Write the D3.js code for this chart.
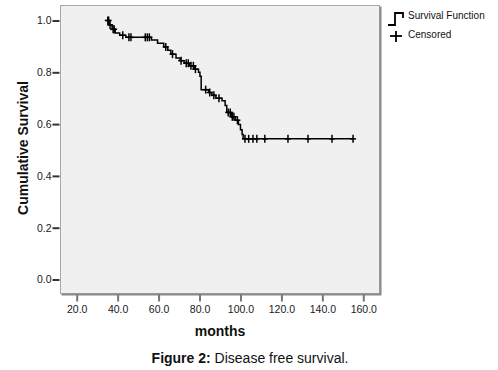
<!DOCTYPE html>
<html><head><meta charset="utf-8">
<script src="https://cdn.jsdelivr.net/npm/d3@7"></script>
<style>
html,body{margin:0;padding:0;background:#fff;}
svg{display:block;font-family:"Liberation Sans",Arial,sans-serif;}
</style></head>
<body><svg id="c" width="498" height="370"></svg>
<script>
// Kaplan-Meier step data (months, cumulative survival after the event)
const startTime = 35.0;
const eventTimes = [35.9, 37.3, 38.8, 41.0, 44.0, 56.5, 59.5, 62.5, 64.5, 66.0, 68.5, 70.5, 72.5, 75.0, 77.5, 79.5, 80.2, 80.8, 84.5, 86.0, 88.0, 91.0, 92.5, 93.3, 95.5, 97.5, 99.0, 100.0, 100.8, 101.3];
const survivalAfter = [0.983, 0.966, 0.952, 0.943, 0.935, 0.925, 0.912, 0.898, 0.885, 0.870, 0.855, 0.845, 0.835, 0.825, 0.812, 0.800, 0.785, 0.733, 0.722, 0.711, 0.700, 0.690, 0.672, 0.645, 0.628, 0.615, 0.598, 0.578, 0.560, 0.543];
const censoredTimes = [35.2, 35.6, 36.3, 37.8, 38.3, 42.5, 45.5, 46.5, 53.5, 54.5, 55.5, 63.5, 66.8, 71.0, 73.5, 74.5, 75.8, 77.0, 78.0, 83.0, 85.0, 87.0, 89.5, 94.0, 95.0, 96.0, 96.8, 98.5, 102.2, 104.0, 106.1, 108.0, 111.9, 123.2, 133.0, 144.7, 155.0];
const xTicks = [20, 40, 60, 80, 100, 120, 140, 160];
const yTicks = [0, 0.2, 0.4, 0.6, 0.8, 1.0];

const svg = d3.select("#c");
const x = d3.scaleLinear().domain([20, 160]).range([76.7, 363.3]);
const y = d3.scaleLinear().domain([0, 1]).range([279.5, 20.5]);

// plot frame
const L = 60.5, T = 5.5, R = 379.5, B = 293.5;
svg.append("rect").attr("x", L).attr("y", T).attr("width", R - L).attr("height", B - T)
  .attr("fill", "#f0f0f0").attr("stroke", "#a8a8a8").attr("stroke-width", 1);
svg.append("path").attr("d", `M${R+1},${T+1}V${B+1}H${L+1}`).attr("fill","none")
  .attr("stroke", "#8a8a8a").attr("stroke-width", 2);

// axes
const ya = svg.append("g").attr("transform", `translate(${L-1},0)`)
  .call(d3.axisLeft(y).tickValues(yTicks).tickFormat(d3.format(".1f")).tickSize(7).tickPadding(1));
ya.select(".domain").remove();
ya.selectAll("line").attr("stroke", "#333").attr("stroke-width", 2);
ya.selectAll("text").attr("font-size", "10.5px").attr("fill", "#1a1a1a").attr("font-family", "Liberation Sans, Arial, sans-serif");

const xa = svg.append("g").attr("transform", `translate(0,${B+1})`)
  .call(d3.axisBottom(x).tickValues(xTicks).tickFormat(d3.format(".1f")).tickSize(7).tickPadding(4));
xa.select(".domain").remove();
xa.selectAll("line").attr("stroke", "#777").attr("stroke-width", 2);
xa.selectAll("text").attr("font-size", "10.5px").attr("fill", "#1a1a1a").attr("font-family", "Liberation Sans, Arial, sans-serif");

// step curve
const pts = [[startTime, 1.0]];
let s = 1.0;
eventTimes.forEach((t, i) => { pts.push([t, s]); s = survivalAfter[i]; pts.push([t, s]); });
pts.push([d3.max(censoredTimes), s]);
const line = d3.line().x(d => x(d[0])).y(d => y(d[1]));
svg.append("path").attr("d", line(pts)).attr("fill", "none").attr("stroke", "#000").attr("stroke-width", 1.5);

function survAt(t) {
  let v = 1.0;
  eventTimes.forEach((e, i) => { if (e <= t) v = survivalAfter[i]; });
  return v;
}
const cg = svg.append("g").attr("stroke", "#000").attr("stroke-width", 1.5);
censoredTimes.forEach(t => {
  const cx = x(t), cy = y(survAt(t));
  cg.append("line").attr("x1", cx).attr("x2", cx).attr("y1", cy - 4).attr("y2", cy + 4);
  cg.append("line").attr("x1", cx - 3).attr("x2", cx + 3).attr("y1", cy).attr("y2", cy);
});

// axis titles
svg.append("text").attr("transform", "translate(28,148) rotate(-90)").attr("text-anchor", "middle")
  .attr("font-size", "14px").attr("font-weight", "bold").attr("fill", "#111").text("Cumulative Survival");
svg.append("text").attr("x", 220).attr("y", 336).attr("text-anchor", "middle")
  .attr("font-size", "14px").attr("font-weight", "bold").attr("fill", "#111").text("months");

// legend
const lg = svg.append("g").attr("stroke", "#000").attr("stroke-width", 1.8).attr("fill", "none");
lg.append("path").attr("d", "M388,25H395V13H403V18");
lg.append("line").attr("x1", 390).attr("x2", 402).attr("y1", 36).attr("y2", 36);
lg.append("line").attr("x1", 396).attr("x2", 396).attr("y1", 31).attr("y2", 42);
svg.append("text").attr("x", 408).attr("y", 19).attr("font-size", "10px").attr("fill", "#111").text("Survival Function");
svg.append("text").attr("x", 408).attr("y", 38).attr("font-size", "10px").attr("fill", "#111").text("Censored");

// caption
const cap = svg.append("text").attr("x", 250).attr("y", 363).attr("text-anchor", "middle")
  .attr("font-size", "14px").attr("fill", "#111");
cap.append("tspan").attr("font-weight", "bold").text("Figure 2:");
cap.append("tspan").text(" Disease free survival.");
</script></body></html>
